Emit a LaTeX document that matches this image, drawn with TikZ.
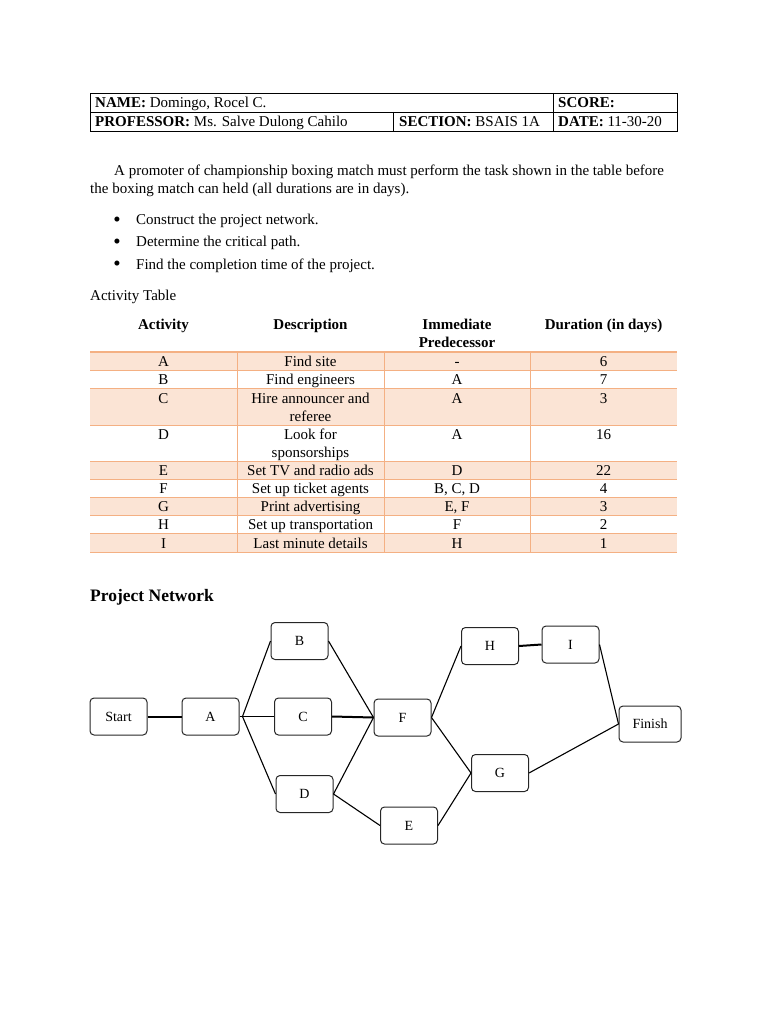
\documentclass[tikz,border=0pt]{standalone}
\usepackage{fontspec}
\setmainfont{Liberation Serif}
\usepackage{xcolor}
\definecolor{peach}{HTML}{FBE4D5}
\definecolor{tline}{HTML}{F4B083}

\begin{document}
\begin{tikzpicture}[x=1pt,y=-1pt,font=\fontsize{15}{18}\selectfont]
 \useasboundingbox (0,0) rectangle (768,1024);
 \draw [line width=0.9pt] (90,93) rectangle (677,131);
 \draw [line width=0.9pt] (90,112) -- (677,112);
 \draw [line width=0.9pt] (553,93) -- (553,131);
 \draw [line width=0.9pt] (393,112) -- (393,131);
 \begin{scope}[every node/.style={anchor=base west, inner sep=0pt}]
  \node (name) at (95,107.5) {\textbf{NAME:} Domingo, Rocel C.};
  \node (score) at (558,107.5) {\textbf{SCORE:}};
  \node (prof) at (95,126.5) {\textbf{PROFESSOR:} Ms. Salve Dulong Cahilo};
  \node (sect) at (399,126.5) {\textbf{SECTION:} BSAIS 1A};
  \node (date) at (558,126.5) {\textbf{DATE:} 11-30-20};
  \node (par1) at (114,176) {A promoter of championship boxing match must perform the task shown in the table before};
  \node (par2) at (90,194) {the boxing match can held (all durations are in days).};
  \node (item1) at (136,225) {Construct the project network.};
  \node (item2) at (136,247) {Determine the critical path.};
  \node (item3) at (136,269) {Find the completion time of the project.};
  \node (acttab) at (90,300) {Activity Table};
  \node (pnet) at (90,601) {\fontsize{17.5}{20}\selectfont\bfseries Project Network};
 \end{scope}
 \begin{scope}[every node/.style={anchor=base, inner sep=0pt}]
  \node (dot1) at (117,226) {\fontsize{21}{21}\selectfont\textbullet};
  \node (dot2) at (117,248) {\fontsize{21}{21}\selectfont\textbullet};
  \node (dot3) at (117,270) {\fontsize{21}{21}\selectfont\textbullet};
 \end{scope}
 \fill [peach] (90,352) rectangle (677,370);
 \fill [peach] (90,388) rectangle (677,425);
 \fill [peach] (90,461) rectangle (677,479);
 \fill [peach] (90,497) rectangle (677,515);
 \fill [peach] (90,533) rectangle (677,552);
 \draw [tline, line width=2pt] (90,352) -- (677,352);
 \begin{scope}[tline, line width=0.9pt]
  \draw (90,370) -- (677,370);
  \draw (90,388) -- (677,388);
  \draw (90,425) -- (677,425);
  \draw (90,461) -- (677,461);
  \draw (90,479) -- (677,479);
  \draw (90,497) -- (677,497);
  \draw (90,515) -- (677,515);
  \draw (90,533) -- (677,533);
  \draw (90,552) -- (677,552);
  \draw (237,352) -- (237,552);
  \draw (384,352) -- (384,552);
  \draw (530,352) -- (530,552);
 \end{scope}
 \begin{scope}[every node/.style={anchor=base, inner sep=0pt}]
  \node (hact) at (163.5,329) {\textbf{Activity}};
  \node (hdesc) at (310.5,329) {\textbf{Description}};
  \node (hpre1) at (457,329) {\textbf{Immediate}};
  \node (hpre2) at (457,347) {\textbf{Predecessor}};
  \node (hdur) at (603.5,329) {\textbf{Duration (in days)}};
  \node (a1) at (163.5,366) {A};
  \node (a2) at (310.5,366) {Find site};
  \node (a3) at (457,366) {-};
  \node (a4) at (603.5,366) {6};
  \node (b1) at (163.5,384) {B};
  \node (b2) at (310.5,384) {Find engineers};
  \node (b3) at (457,384) {A};
  \node (b4) at (603.5,384) {7};
  \node (c1) at (163.5,403) {C};
  \node (c2) at (310.5,403) {Hire announcer and};
  \node (c2a) at (310.5,421) {referee};
  \node (c3) at (457,403) {A};
  \node (c4) at (603.5,403) {3};
  \node (d1) at (163.5,439) {D};
  \node (d2) at (310.5,439) {Look for};
  \node (d2a) at (310.5,457) {sponsorships};
  \node (d3) at (457,439) {A};
  \node (d4) at (603.5,439) {16};
  \node (e1) at (163.5,475) {E};
  \node (e2) at (310.5,475) {Set TV and radio ads};
  \node (e3) at (457,475) {D};
  \node (e4) at (603.5,475) {22};
  \node (f1) at (163.5,493) {F};
  \node (f2) at (310.5,493) {Set up ticket agents};
  \node (f3) at (457,493) {B, C, D};
  \node (f4) at (603.5,493) {4};
  \node (g1) at (163.5,511) {G};
  \node (g2) at (310.5,511) {Print advertising};
  \node (g3) at (457,511) {E, F};
  \node (g4) at (603.5,511) {3};
  \node (h1) at (163.5,529) {H};
  \node (h2) at (310.5,529) {Set up transportation};
  \node (h3) at (457,529) {F};
  \node (h4) at (603.5,529) {2};
  \node (i1) at (163.5,548) {I};
  \node (i2) at (310.5,548) {Last minute details};
  \node (i3) at (457,548) {H};
  \node (i4) at (603.5,548) {1};
 \end{scope}
 \begin{scope}[every node/.style={draw=black!85, line width=1pt, rounded corners=4pt,
                      minimum width=57pt, minimum height=37pt, font=\fontsize{14}{16}\selectfont}]
  \node (S) at (118.5,716.5) {Start};
  \node (A) at (210.5,716.5) {A};
  \node (B) at (299.5,641) {B};
  \node (C) at (303,716.5) {C};
  \node (D) at (304.5,794) {D};
  \node (F) at (402.5,717.5) {F};
  \node (E) at (409,825.5) {E};
  \node (H) at (490,646) {H};
  \node (I) at (570.5,644.5) {I};
  \node (G) at (500,773) {G};
  \node (Fin) at (650,724) [minimum width=62pt, minimum height=36pt] {Finish};
 \end{scope}
 \coordinate (Aout) at ([xshift=3pt]A.east);
 \begin{scope}[line width=1.1pt]
  \path [-] (S.east) edge [line width=2pt] (A.west);
  \path [-] (A.east) edge (Aout);
  \path [-] (Aout) edge (B.west);
  \path [-] (Aout) edge (C.west);
  \path [-] (Aout) edge (D.west);
  \path [-] (B.east) edge (F.west);
  \path [-] (C.east) edge [line width=2pt] (F.west);
  \path [-] (D.east) edge (F.west);
  \path [-] (D.east) edge (E.west);
  \path [-] (F.east) edge (H.west);
  \path [-] (F.east) edge (G.west);
  \path [-] (E.east) edge (G.west);
  \path [-] (H.east) edge [line width=2pt] (I.west);
  \path [-] (I.east) edge (Fin.west);
  \path [-] (G.east) edge (Fin.west);
 \end{scope}
\end{tikzpicture}
\end{document}
